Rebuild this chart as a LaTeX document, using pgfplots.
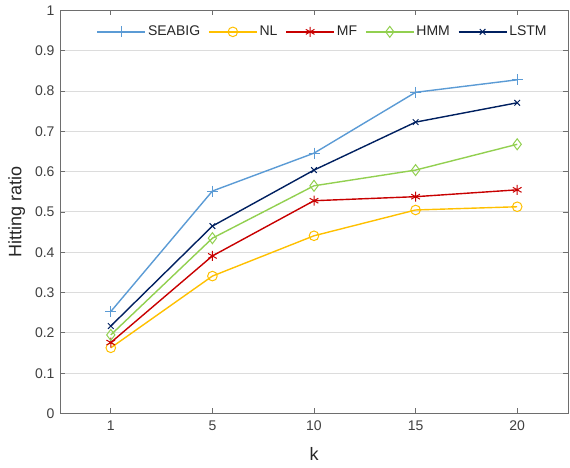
\documentclass[border=0pt]{standalone}
\usepackage{pgfplots}
\pgfplotsset{compat=1.18}
\usepackage{fontspec}
\setmainfont{Liberation Sans}
\definecolor{cSEA}{HTML}{5B9BD5}
\definecolor{cNL}{HTML}{FFC000}
\definecolor{cMF}{HTML}{C80000}
\definecolor{cHMM}{HTML}{92D050}
\definecolor{cLSTM}{HTML}{002060}
\definecolor{axgray}{HTML}{6E6E6E}
\definecolor{gridgray}{HTML}{DCDCDC}
\begin{document}
\begin{tikzpicture}
\path[use as bounding box] (-60pt,-54.5pt) rectangle (510pt,413.5pt);
\begin{axis}[
  scale only axis,
  width=508pt, height=403pt,
  xmin=-0.5, xmax=4.5,
  ymin=0, ymax=1,
  xtick={0,1,2,3,4},
  xticklabels={1,5,10,15,20},
  ytick={0,0.1,0.2,0.3,0.4,0.5,0.6,0.7,0.8,0.9,1},
  yticklabels={0,0.1,0.2,0.3,0.4,0.5,0.6,0.7,0.8,0.9,1},
  tick align=inside,
  major tick length=5pt,
  axis line style={axgray, line width=1pt},
  every tick/.style={axgray, line width=0.8pt},
  ymajorgrids,
  major grid style={gridgray, line width=1pt},
  ticklabel style={font=\fontsize{14}{16}\selectfont, text=black!75},
  xticklabel style={yshift=-4pt},
  yticklabel style={xshift=-2pt},
  xlabel={k}, ylabel={Hitting ratio},
  label style={font=\fontsize{18}{20}\selectfont, text=black!85},
  xlabel style={yshift=-10pt},
  ylabel style={yshift=3pt},
  legend columns=5,
  legend style={at={(0.517,0.947)}, anchor=center, draw=none, fill=white,
    font=\fontsize{14}{16}\selectfont, text=black!85,
    /tikz/every even column/.append style={column sep=6pt}},
  legend image code/.code={\draw[mark repeat=2,mark phase=2] plot coordinates {(0pt,0pt) (24pt,0pt) (48pt,0pt)};},
  every axis plot/.append style={line width=1.4pt},
]
\addplot[cSEA, mark=+, mark size=5.5pt, mark options={line width=1pt}] coordinates {(0,0.253) (1,0.552) (2,0.646) (3,0.797) (4,0.828)};
\addlegendentry{SEABIG}
\addplot[cNL, mark=o, mark size=4.8pt, mark options={line width=1pt}] coordinates {(0,0.163) (1,0.341) (2,0.441) (3,0.505) (4,0.513)};
\addlegendentry{NL}
\addplot[cMF, mark=asterisk, mark size=5pt, mark options={line width=1pt}] coordinates {(0,0.176) (1,0.391) (2,0.528) (3,0.538) (4,0.555)};
\addlegendentry{MF}
\addplot[cHMM, mark=diamond, mark size=5.5pt, mark options={line width=1pt}] coordinates {(0,0.195) (1,0.435) (2,0.565) (3,0.604) (4,0.668)};
\addlegendentry{HMM}
\addplot[cLSTM, mark=x, mark size=4pt, mark options={line width=1pt}] coordinates {(0,0.217) (1,0.465) (2,0.604) (3,0.723) (4,0.771)};
\addlegendentry{LSTM}
\end{axis}
\end{tikzpicture}
\end{document}
